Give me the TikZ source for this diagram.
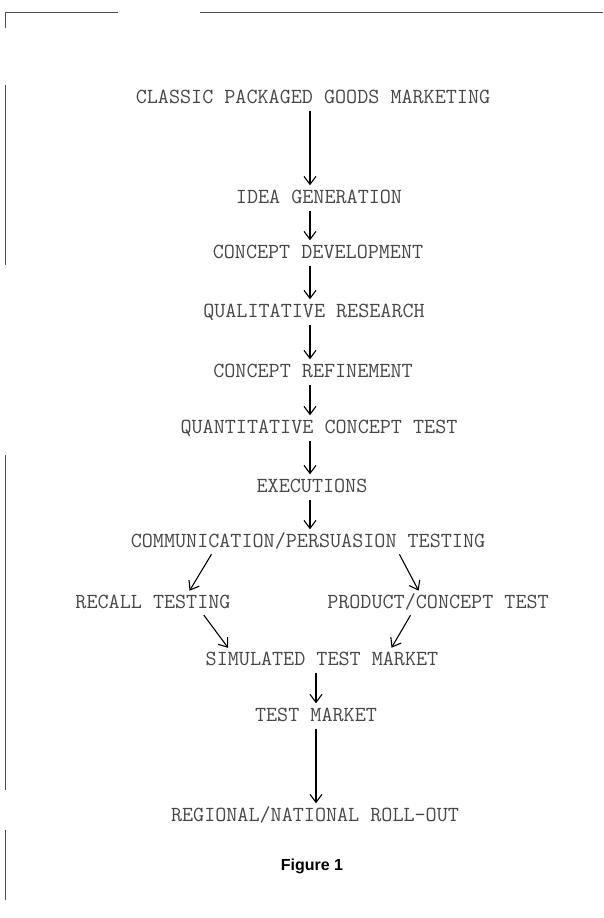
\documentclass[tikz,border=0pt]{standalone}
\usepackage{fontspec}
\setmainfont{Liberation Serif}
\newfontfamily\captionfont{Liberation Sans}
\usepackage{tikz}
\usetikzlibrary{arrows.meta, positioning, calc}

\begin{document}
\begin{tikzpicture}[
  x=1pt, y=-1pt,
  stage/.style={font=\ttfamily\fontsize{21.5}{22}\selectfont, text=black!72, text height=11pt, text depth=0pt, inner sep=4pt},
  flow/.style={-{Straight Barb[length=8pt, width=12pt]}, line width=1.1pt, shorten <=3pt, shorten >=3pt},
  frame/.style={black!70, line width=0.7pt}
]
  \useasboundingbox (0,0) rectangle (603,918);

  % scanned frame, top and left edge only
  \draw[frame] (5,12) -- (118,12);
  \draw[frame] (200,12) -- (603,12);
  \draw[frame] (5,12) -- (5,28);
  \draw[frame] (5,85) -- (5,265);
  \draw[frame] (5,455) -- (5,790);
  \draw[frame] (5,830) -- (5,900);

  \coordinate (spine) at (310,0);

  \node[stage] (classic) at (313,98) {CLASSIC PACKAGED GOODS MARKETING};
  \node[stage] (idea) at (319,198) {IDEA GENERATION};
  \node[stage] (develop) at (318,253) {CONCEPT DEVELOPMENT};
  \node[stage] (quali) at (314,312) {QUALITATIVE RESEARCH};
  \node[stage] (refine) at (313,372) {CONCEPT REFINEMENT};
  \node[stage] (quanti) at (319,428) {QUANTITATIVE CONCEPT TEST};
  \node[stage] (exec) at (312,487) {EXECUTIONS};
  \node[stage] (persuade) at (308,542) {COMMUNICATION/PERSUASION TESTING};
  \node[stage] (recall) at (153,603) {RECALL TESTING};
  \node[stage] (product) at (438,603) {PRODUCT/CONCEPT TEST};
  \node[stage] (simtm) at (322,660) {SIMULATED TEST MARKET};
  \node[stage] (testmkt) at (316,716) {TEST MARKET};
  \node[stage] (rollout) at (315,816) {REGIONAL/NATIONAL ROLL-OUT};

  \node[font=\captionfont\bfseries\fontsize{16}{18}\selectfont] (caption) at (312,866) {Figure 1};

  % main chain
  \draw[flow] (classic.south -| spine) -- (idea.north -| spine);
  \draw[flow] (idea.south -| spine) -- (develop.north -| spine);
  \draw[flow] (develop.south -| spine) -- (quali.north -| spine);
  \draw[flow] (quali.south -| spine) -- (refine.north -| spine);
  \draw[flow] (refine.south -| spine) -- (quanti.north -| spine);
  \draw[flow] (quanti.south -| spine) -- (exec.north -| spine);
  \draw[flow] (exec.south -| spine) -- (persuade.north -| spine);

  % split and merge
  \draw[flow] ([xshift=-95pt]persuade.south) -- ([xshift=35pt]recall.north);
  \draw[flow] ([xshift=90pt]persuade.south) -- ([xshift=-18pt]product.north);
  \draw[flow] ([xshift=49pt]recall.south) -- ([xshift=-92pt]simtm.north);
  \draw[flow] ([xshift=-26pt]product.south) -- ([xshift=68pt]simtm.north);

  \draw[flow] (simtm.south -| testmkt) -- (testmkt.north -| testmkt);
  \draw[flow] (testmkt.south) -- (testmkt.south |- rollout.north);
\end{tikzpicture}
\end{document}
